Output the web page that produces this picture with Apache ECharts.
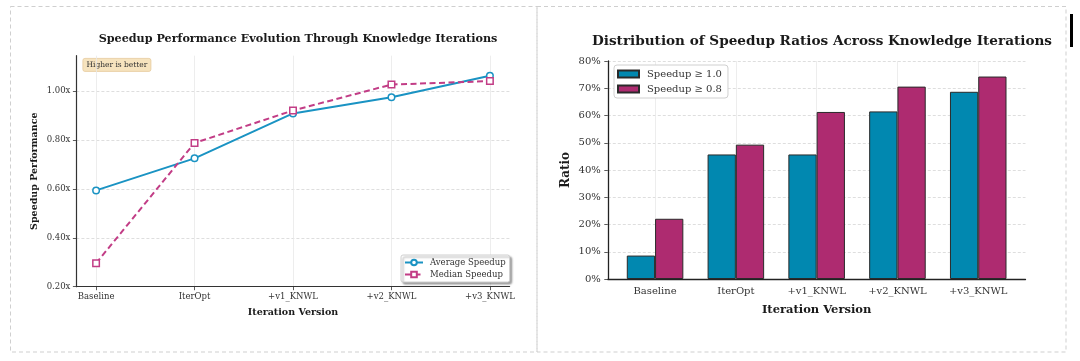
<!DOCTYPE html>
<html>
<head>
<meta charset="utf-8">
<script src="https://cdn.jsdelivr.net/npm/echarts@6/dist/echarts.min.js"></script>
<style>html,body{margin:0;padding:0;background:#fff;}#c{width:1080px;height:361px;}</style>
</head>
<body>
<div id="c"></div>
<script>
const categories = ['Baseline', 'IterOpt', '+v1_KNWL', '+v2_KNWL', '+v3_KNWL'];
const avgSpeedup = [0.594, 0.725, 0.909, 0.975, 1.063];
const medianSpeedup = [0.296, 0.788, 0.921, 1.027, 1.041];
const speedupTicks = [0.2, 0.4, 0.6, 0.8, 1.0];
const ratioGe10 = [8.6, 45.7, 45.7, 61.5, 68.7];
const ratioGe08 = [22.1, 49.3, 61.3, 70.6, 74.3];
const catIdx = categories.map((c, i) => i);

const FONT = 'DejaVu Serif';
const chart = echarts.init(document.getElementById('c'), null, {renderer: 'canvas'});

function pairs(vals) { return vals.map((v, i) => [i, v]); }

const option = {
  animation: false,
  backgroundColor: '#fff',
  textStyle: {fontFamily: FONT},
  title: [
    {text: 'Speedup Performance Evolution Through Knowledge Iterations', left: 293, top: 29, textAlign: 'center',
     textStyle: {fontFamily: FONT, fontWeight: 'bold', fontSize: 11.2, color: '#1a1a1a'}},
    {text: 'Distribution of Speedup Ratios Across Knowledge Iterations', left: 817, top: 29, textAlign: 'center',
     textStyle: {fontFamily: FONT, fontWeight: 'bold', fontSize: 13.6, color: '#1a1a1a'}}
  ],
  graphic: [
    {type: 'rect', shape: {x: 10.5, y: 6.5, width: 526.5, height: 345.5}, style: {fill: 'none', stroke: '#cfcfcf', lineWidth: 1, lineDash: [4, 3]}, z: -1},
    {type: 'rect', shape: {x: 537, y: 6.5, width: 529, height: 345.5}, style: {fill: 'none', stroke: '#cfcfcf', lineWidth: 1, lineDash: [4, 3]}, z: -1},
    {type: 'rect', shape: {x: 1070, y: 14, width: 3, height: 33}, style: {fill: '#000'}},
    {type: 'group', left: 82.5, top: 58, children: [
      {type: 'rect', shape: {x: 0, y: 0, width: 68, height: 13, r: 2}, style: {fill: 'rgba(245,222,179,0.85)', stroke: '#e6c99a', lineWidth: 0.8}},
      {type: 'text', style: {x: 34, y: 7, text: 'Higher is better', fontFamily: FONT, fontSize: 7.5, fill: '#333', align: 'center', verticalAlign: 'middle'}}
    ], z: 10}
  ],
  legend: [
    {
      data: ['Average Speedup', 'Median Speedup'], orient: 'vertical', left: 401, top: 255,
      backgroundColor: '#fff', borderColor: '#d0d0d0', borderWidth: 1, borderRadius: 2,
      shadowColor: 'rgba(0,0,0,0.35)', shadowOffsetX: 2, shadowOffsetY: 2, shadowBlur: 2,
      padding: [3, 4, 3, 3], itemGap: 3, itemWidth: 18, itemHeight: 7,
      textStyle: {fontFamily: FONT, fontSize: 8.5, color: '#333', padding: [0, 0, 0, 2]}
    },
    {
      data: ['Speedup ≥ 1.0', 'Speedup ≥ 0.8'], orient: 'vertical', left: 614, top: 65,
      backgroundColor: '#fff', borderColor: '#d0d0d0', borderWidth: 1, borderRadius: 3,
      padding: [4, 6, 4, 3], itemGap: 5, itemWidth: 21, itemHeight: 7, icon: 'rect',
      textStyle: {fontFamily: FONT, fontSize: 10, color: '#333', padding: [0, 0, 0, 3]}
    }
  ],
  grid: [
    {left: 76.4, top: 55.7, width: 433.2, height: 231},
    {left: 607.8, top: 61, width: 417.7, height: 218}
  ],
  xAxis: [
    {
      gridIndex: 0, type: 'value', min: -0.2, max: 4.2,
      name: 'Iteration Version', nameLocation: 'middle', nameGap: 21,
      nameTextStyle: {fontFamily: FONT, fontWeight: 'bold', fontSize: 9.5, color: '#1a1a1a'},
      axisLine: {show: true, onZero: false, lineStyle: {color: '#333', width: 1.2}},
      axisTick: {show: true, length: 3.5, customValues: catIdx, lineStyle: {color: '#333', width: 0.8}},
      axisLabel: {customValues: catIdx, formatter: v => categories[Math.round(v)], margin: 6,
                  fontFamily: FONT, fontSize: 8.5, color: '#333'},
      splitLine: {show: true, lineStyle: {color: '#e8e8e8', width: 0.8}}
    },
    {
      gridIndex: 1, type: 'value', min: -0.585, max: 4.585,
      name: 'Iteration Version', nameLocation: 'middle', nameGap: 25,
      nameTextStyle: {fontFamily: FONT, fontWeight: 'bold', fontSize: 11.5, color: '#1a1a1a'},
      axisLine: {show: true, onZero: false, lineStyle: {color: '#222', width: 1.3}},
      axisTick: {show: false, customValues: catIdx},
      axisLabel: {customValues: catIdx, formatter: v => categories[Math.round(v)], margin: 7,
                  fontFamily: FONT, fontSize: 10, color: '#333'},
      splitLine: {show: true, lineStyle: {color: '#e8e8e8', width: 0.8}}
    }
  ],
  yAxis: [
    {
      gridIndex: 0, type: 'value', min: 0.2, max: 1.145,
      name: 'Speedup Performance', nameLocation: 'middle', nameGap: 37, nameRotate: 90,
      nameTextStyle: {fontFamily: FONT, fontWeight: 'bold', fontSize: 9.5, color: '#1a1a1a'},
      axisLine: {show: true, onZero: false, lineStyle: {color: '#333', width: 1.2}},
      axisTick: {show: true, length: 3.5, customValues: speedupTicks, lineStyle: {color: '#333', width: 0.8}},
      axisLabel: {customValues: speedupTicks, formatter: v => v.toFixed(2) + 'x', margin: 6,
                  fontFamily: FONT, fontSize: 8.5, color: '#333'},
      splitLine: {show: true, lineStyle: {color: '#d5d5d5', width: 0.8, type: [3, 2]}}
    },
    {
      gridIndex: 1, type: 'value', min: 0, max: 80, interval: 10,
      name: 'Ratio', nameLocation: 'middle', nameGap: 36, nameRotate: 90,
      nameTextStyle: {fontFamily: FONT, fontWeight: 'bold', fontSize: 12, color: '#1a1a1a'},
      axisLine: {show: true, onZero: false, lineStyle: {color: '#222', width: 1.3}},
      axisTick: {show: true, length: 3.5, lineStyle: {color: '#333', width: 0.8}},
      axisLabel: {formatter: v => v + '%', margin: 7, fontFamily: FONT, fontSize: 10, color: '#333'},
      splitLine: {show: true, lineStyle: {color: '#d5d5d5', width: 0.8, type: [3, 2]}}
    }
  ],
  series: [
    {
      name: 'Average Speedup', type: 'line', xAxisIndex: 0, yAxisIndex: 0,
      data: pairs(avgSpeedup), symbol: 'circle', symbolSize: 6.5, z: 3,
      lineStyle: {color: '#1A93C3', width: 2},
      itemStyle: {color: '#fff', borderColor: '#1A93C3', borderWidth: 1.5}
    },
    {
      name: 'Median Speedup', type: 'line', xAxisIndex: 0, yAxisIndex: 0,
      data: pairs(medianSpeedup), symbol: 'rect', symbolSize: 6.5, z: 4,
      lineStyle: {color: '#C23D86', width: 2, type: [6, 3.5]},
      itemStyle: {color: '#fff', borderColor: '#C23D86', borderWidth: 1.5}
    },
    {
      name: 'Speedup ≥ 1.0', type: 'bar', xAxisIndex: 1, yAxisIndex: 1,
      data: pairs(ratioGe10), barWidth: '35%', barGap: '0%',
      itemStyle: {color: '#0188B0', borderColor: '#2a2a2a', borderWidth: 1}
    },
    {
      name: 'Speedup ≥ 0.8', type: 'bar', xAxisIndex: 1, yAxisIndex: 1,
      data: pairs(ratioGe08), barWidth: '35%', barGap: '0%',
      itemStyle: {color: '#AE2B70', borderColor: '#2a2a2a', borderWidth: 1}
    }
  ]
};
chart.setOption(option);
</script>
</body>
</html>
